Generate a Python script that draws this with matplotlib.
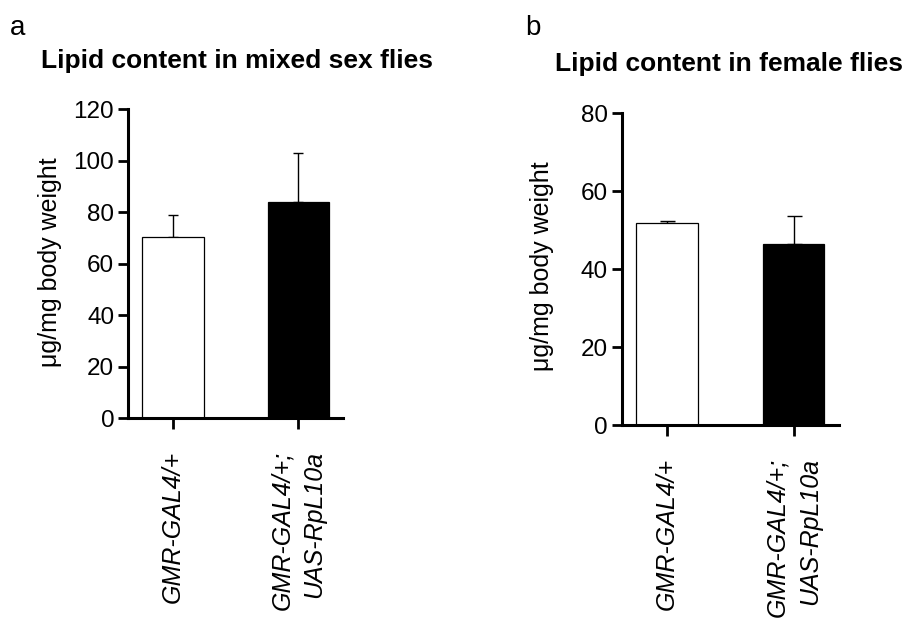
import matplotlib
matplotlib.use("Agg")
import matplotlib.pyplot as plt

plt.rcParams['font.family'] = ['Liberation Sans', 'DejaVu Sans']

categories = ["GMR-GAL4/+", "GMR-GAL4/+;\nUAS-RpL10a"]
mixed_means = [70.3, 84.0]
mixed_err = [8.5, 18.8]
female_means = [51.8, 46.5]
female_err = [0.6, 7.1]
colors = ["white", "black"]

fig = plt.figure(figsize=(9.08, 6.24), dpi=100)

def panel(rect, means, errs, ylim, yticks, capsize):
    ax = fig.add_axes(rect)
    x = list(range(len(means)))
    ax.bar(x, means, width=0.49, color=colors, edgecolor="black", linewidth=0.9, zorder=2)
    ax.errorbar(x, means, yerr=[[0] * len(errs), errs], fmt="none", ecolor="black",
                elinewidth=1.0, capsize=capsize, capthick=1.0, zorder=1)
    ax.set_xlim(-0.36, 1.36)
    ax.set_ylim(*ylim)
    ax.set_yticks(yticks)
    ax.set_xticks(x)
    ax.set_xticklabels(categories, rotation=90, fontstyle="italic", fontsize=18,
                       multialignment="right", linespacing=1.45)
    ax.tick_params(axis="y", labelsize=17.5, width=2, length=7, pad=3)
    ax.tick_params(axis="x", width=2, length=8, pad=15.5)
    for s in ["top", "right"]:
        ax.spines[s].set_visible(False)
    for s in ["left", "bottom"]:
        ax.spines[s].set_linewidth(2.2)
    return ax

panel([0.141, 0.330, 0.237, 0.4953], mixed_means, mixed_err, (0, 120), [0, 20, 40, 60, 80, 100, 120], 3.6)
panel([0.6847, 0.3189, 0.2393, 0.4995], female_means, female_err, (0, 80), [0, 20, 40, 60, 80], 5.4)

fig.text(0.2607, 0.8905, "Lipid content in mixed sex flies", ha="center", va="baseline",
         fontsize=19, fontweight="bold")
fig.text(0.803, 0.8862, "Lipid content in female flies", ha="center", va="baseline",
         fontsize=19, fontweight="bold")
fig.text(0.011, 1 - 35 / 624, "a", ha="left", va="baseline", fontsize=20)
fig.text(0.578, 1 - 35 / 624, "b", ha="left", va="baseline", fontsize=20)
fig.text(50 / 908, 1 - 262.5 / 624, "μg/mg body weight", rotation=90, ha="center", va="center", fontsize=18)
fig.text(542 / 908, 1 - 266.5 / 624, "μg/mg body weight", rotation=90, ha="center", va="center", fontsize=18)

fig.savefig("out.png", dpi=100)
